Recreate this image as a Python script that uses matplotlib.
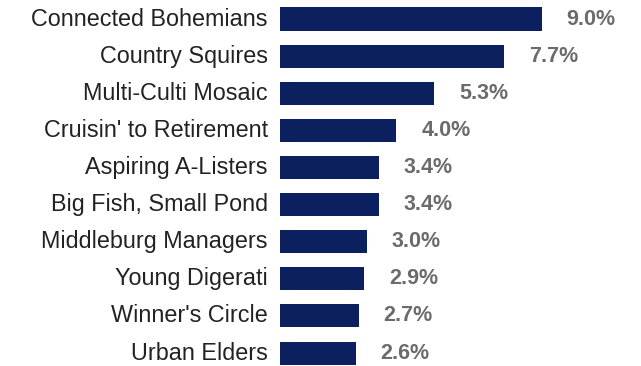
import matplotlib.pyplot as plt

segments = [
    "Connected Bohemians",
    "Country Squires",
    "Multi-Culti Mosaic",
    "Cruisin' to Retirement",
    "Aspiring A-Listers",
    "Big Fish, Small Pond",
    "Middleburg Managers",
    "Young Digerati",
    "Winner's Circle",
    "Urban Elders",
]
shares = [9.0, 7.7, 5.3, 4.0, 3.4, 3.4, 3.0, 2.9, 2.7, 2.6]

plt.rcParams['font.family'] = ['Liberation Sans', 'DejaVu Sans']

fig = plt.figure(figsize=(6.41, 3.66), dpi=100)
ax = fig.add_axes([280 / 641, 0, 361 / 641, 1])

pos = list(range(len(segments)))
ax.barh(pos, shares, height=0.62, color='#0c1f5e')

for y, v in zip(pos, shares):
    ax.text(v + 0.85, y, f"{v:.1f}%", va='center', ha='left',
            fontsize=15.5, fontweight='bold', color='#6b6b6b')
    ax.text(-0.42, y, segments[y], va='center', ha='right',
            fontsize=16.8, color='#222222')

ax.set_xlim(0, 361 / 29.1)
ax.set_ylim(9.35, -0.512)
ax.axis('off')

plt.savefig('out.png', dpi=100)
